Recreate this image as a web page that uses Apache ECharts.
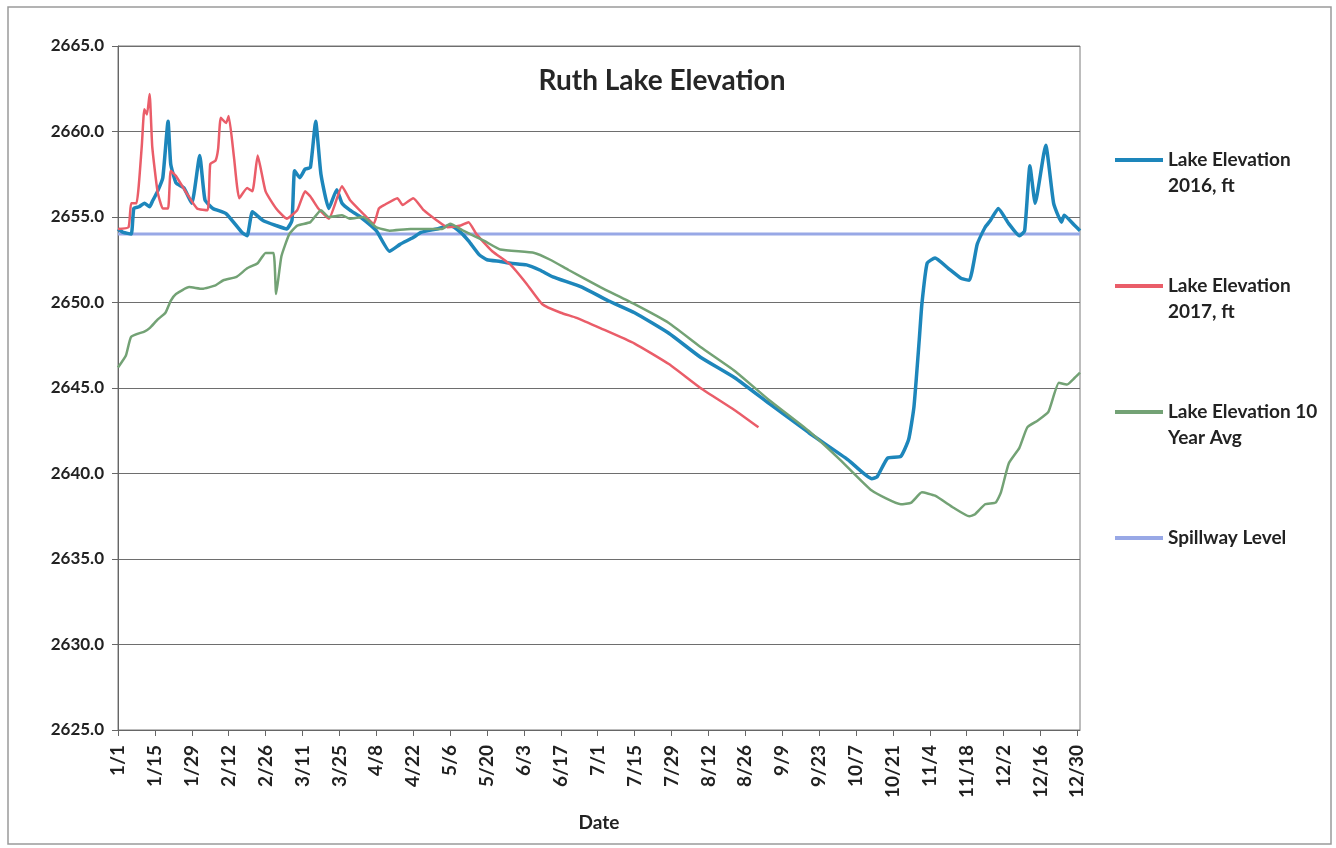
<!DOCTYPE html>
<html>
<head>
<meta charset="utf-8">
<title>Ruth Lake Elevation</title>
<script src="https://cdn.jsdelivr.net/npm/echarts@6/dist/echarts.min.js"></script>
<style>
  html, body { margin: 0; padding: 0; background: #fff; }
  #chart { width: 1336px; height: 848px; }
</style>
</head>
<body>
<div id="chart"></div>
<script>
// Day of year (0 = Jan 1) and lake elevation in feet for each series.
const tickLabels = ['1/1','1/15','1/29','2/12','2/26','3/11','3/25','4/8','4/22','5/6','5/20','6/3','6/17',
  '7/1','7/15','7/29','8/12','8/26','9/9','9/23','10/7','10/21','11/4','11/18','12/2','12/16','12/30'];

const days2016 = [0,2,5,6,8,10,12,13,15,17,19,20,22,25,28,31,33,36,41,47,49,51,55,60,64,66,67,69,71,73,75,77,80,83,85,88,92,
  98,103,107,112,115,121,126,130,133,137,140,145,149,155,160,165,176,186,196,209,221,234,247,262,277,286,288,292,297,300,
  302,304,305,307,310,315,320,323,326,329,331,334,338,342,344,346,348,352,355,358,359,363,365];
const elev2016 = [2654.3,2654.1,2654.0,2655.5,2655.6,2655.8,2655.6,2655.9,2656.5,2657.3,2660.6,2658.1,2657.0,2656.7,2655.8,
  2658.6,2656.0,2655.5,2655.2,2654.1,2653.9,2655.3,2654.8,2654.5,2654.3,2654.8,2657.7,2657.3,2657.8,2657.9,2660.6,2657.5,
  2655.5,2656.6,2655.8,2655.4,2655.0,2654.2,2653.0,2653.4,2653.8,2654.1,2654.3,2654.5,2654.1,2653.6,2652.8,2652.5,2652.4,
  2652.3,2652.2,2651.9,2651.5,2650.9,2650.1,2649.4,2648.2,2646.8,2645.6,2644.1,2642.4,2640.8,2639.7,2639.8,2640.9,2641.0,
  2642.0,2643.9,2647.8,2649.9,2652.3,2652.6,2652.0,2651.4,2651.3,2653.4,2654.4,2654.8,2655.5,2654.6,2653.9,2654.2,2658.0,
  2655.8,2659.2,2655.8,2654.7,2655.1,2654.5,2654.2];

const days2017 = [0,4,5,7,9,10,11,12,13,15,17,19,20,22,26,30,34,35,37,38,39,41,42,44,46,49,51,53,56,60,64,68,71,73,76,80,85,
  88,93,97,99,101,106,108,112,116,121,125,130,133,136,142,149,155,161,168,174,183,196,209,221,234,243];
const elev2017 = [2654.3,2654.4,2655.8,2655.8,2659.1,2661.3,2661.0,2662.2,2659.1,2656.5,2655.5,2655.5,2657.7,2657.4,2656.4,
  2655.5,2655.4,2658.1,2658.3,2659.0,2660.8,2660.5,2660.9,2658.5,2656.1,2656.7,2656.5,2658.6,2656.5,2655.5,2654.9,2655.4,
  2656.5,2656.2,2655.5,2654.9,2656.8,2656.0,2655.2,2654.6,2655.5,2655.7,2656.1,2655.7,2656.1,2655.4,2654.8,2654.4,2654.5,
  2654.7,2654.0,2653.0,2652.2,2651.1,2649.9,2649.4,2649.1,2648.5,2647.6,2646.4,2645.0,2643.7,2642.7];

const daysAvg = [0,3,5,10,12,15,18,20,22,27,32,37,40,45,49,53,56,59,60,62,65,68,73,77,80,85,88,93,98,103,111,119,123,126,131,
  139,145,158,164,171,183,196,209,221,234,247,262,274,286,297,301,305,310,317,323,325,329,333,335,338,342,345,349,353,357,
  360,363,365];
const elevAvg = [2646.2,2646.9,2648.0,2648.3,2648.5,2649.0,2649.4,2650.1,2650.5,2650.9,2650.8,2651.0,2651.3,2651.5,2652.0,
  2652.3,2652.9,2652.9,2650.5,2652.7,2654.0,2654.5,2654.7,2655.4,2655.0,2655.1,2654.9,2655.0,2654.4,2654.2,2654.3,2654.3,
  2654.3,2654.6,2654.2,2653.6,2653.1,2652.9,2652.5,2651.9,2650.9,2649.9,2648.8,2647.4,2646.0,2644.3,2642.5,2640.8,2639.0,
  2638.2,2638.3,2638.9,2638.7,2638.0,2637.5,2637.6,2638.2,2638.3,2638.9,2640.6,2641.5,2642.7,2643.1,2643.6,2645.3,2645.2,
  2645.6,2645.9];

const daysSpill = [0, 365];
const elevSpill = [2654.0, 2654.0];

// Legend entries; the first text line sits level with the swatch.
const legendText = {
  'Lake Elevation 2016, ft': ' \nLake Elevation\n2016, ft',
  'Lake Elevation 2017, ft': ' \nLake Elevation\n2017, ft',
  'Lake Elevation 10 Year Avg': ' \nLake Elevation 10\nYear Avg',
  'Spillway Level': ' \nSpillway Level\n '
};

const pairs = (d, v) => d.map((x, i) => [x, v[i]]);

const FONT = 'Lato, "Open Sans", sans-serif';
const chart = echarts.init(document.getElementById('chart'));

const lineSeries = (name, d, v, color, width) => ({
  name, type: 'line', data: pairs(d, v), symbol: 'none', smooth: 0.15,
  lineStyle: { color, width }, itemStyle: { color }, z: 3
});

chart.setOption({
  animation: false,
  backgroundColor: '#ffffff',
  graphic: [{
    type: 'rect', shape: { x: 8, y: 7, width: 1323, height: 837 },
    style: { fill: 'none', stroke: '#9a9a9a', lineWidth: 1.5 }, silent: true, z: -1
  }],
  title: {
    text: 'Ruth Lake Elevation', left: 657, top: 62, textAlign: 'center',
    textStyle: { fontFamily: FONT, fontSize: 28, fontWeight: 'bold', color: '#262626' }
  },
  legend: {
    orient: 'vertical', left: 1115, top: 121, padding: 0, itemGap: 48,
    itemWidth: 48, itemHeight: 4, icon: 'rect',
    textStyle: { fontFamily: FONT, fontSize: 19, fontWeight: 'bold', color: '#222', lineHeight: 26 },
    formatter: name => legendText[name]
  },
  grid: { left: 118, right: 256, top: 46, bottom: 118, show: true, borderColor: '#7a7a7a', borderWidth: 1 },
  xAxis: {
    type: 'value', min: 0, max: 365, interval: 14,
    name: 'Date', nameLocation: 'middle', nameGap: 83,
    nameTextStyle: { fontFamily: FONT, fontSize: 19, fontWeight: 'bold', color: '#222' },
    axisLine: { lineStyle: { color: '#666', width: 1 } },
    axisTick: { show: true, length: 6, lineStyle: { color: '#666' } },
    splitLine: { show: false },
    axisLabel: {
      rotate: 90, margin: 15, showMaxLabel: false,
      fontFamily: FONT, fontSize: 19, fontWeight: 'bold', color: '#222',
      formatter: v => (v % 14 === 0 ? tickLabels[v / 14] : '')
    }
  },
  yAxis: {
    type: 'value', min: 2625, max: 2665, interval: 5,
    axisLine: { show: true, lineStyle: { color: '#666', width: 1 } },
    axisTick: { show: true, length: 6, lineStyle: { color: '#666' } },
    splitLine: { lineStyle: { color: '#6e6e6e', width: 1 } },
    axisLabel: {
      margin: 14, fontFamily: FONT, fontSize: 17, fontWeight: 'bold', color: '#222',
      formatter: v => v.toFixed(1)
    }
  },
  series: [
    lineSeries('Lake Elevation 2016, ft', days2016, elev2016, '#1d86bb', 3.5),
    lineSeries('Lake Elevation 2017, ft', days2017, elev2017, '#ea5d69', 2.5),
    lineSeries('Lake Elevation 10 Year Avg', daysAvg, elevAvg, '#73a275', 2.5),
    Object.assign(lineSeries('Spillway Level', daysSpill, elevSpill, '#98a8e6', 3), { smooth: false, z: 2 })
  ]
});
</script>
</body>
</html>
